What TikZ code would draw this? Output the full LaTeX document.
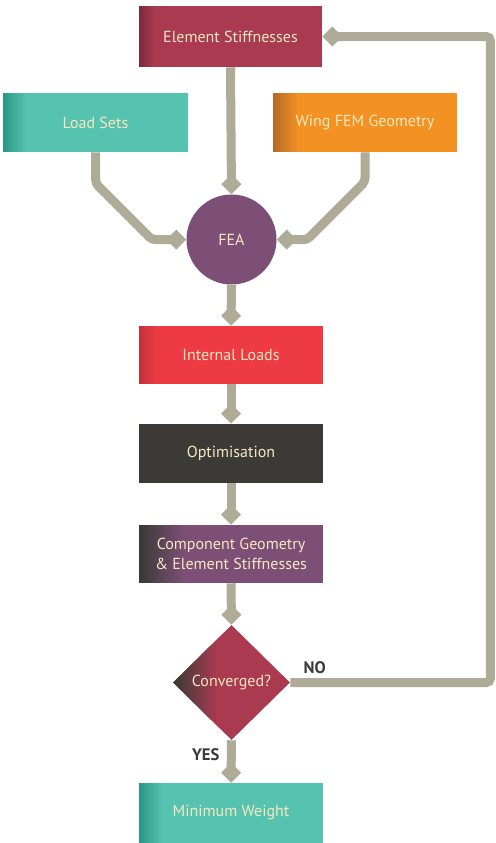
\documentclass[tikz,border=0pt]{standalone}
\usepackage{fontspec}
\setmainfont{PT Sans}
\usetikzlibrary{shapes.geometric,arrows.meta,calc}
\definecolor{crim}{HTML}{A93A50}
\definecolor{crimdk}{HTML}{7E2A3B}
\definecolor{teal1}{HTML}{55C3B0}
\definecolor{tealdk}{HTML}{2A9884}
\definecolor{orng}{HTML}{F39122}
\definecolor{orngdk}{HTML}{B8692A}
\definecolor{purp}{HTML}{7D4F76}
\definecolor{redb}{HTML}{EE3B43}
\definecolor{reddk}{HTML}{C2323A}
\definecolor{dgray}{HTML}{3B3A37}
\definecolor{txtc}{HTML}{F6E7C1}
\definecolor{conn}{HTML}{AEAB97}
\definecolor{lbl}{HTML}{3A3A3A}
\tikzset{
  shadebox/.style n args={3}{fill=#2,
    path picture={
      \foreach \k in {0,...,15}{
        \pgfmathtruncatemacro\pp{\k*100/15}
        \fill[#2!\pp!#1] ([xshift={\k*#3/16}]path picture bounding box.south west)
          rectangle ([xshift={(\k+1)*#3/16+0.4pt}]path picture bounding box.north west);
      }}},
  blk/.style={rectangle, inner sep=0pt, text=txtc, align=center,
    font=\fontsize{12}{15}\selectfont},
  flow/.style={draw=conn, line width=6.75pt, rounded corners=3pt,
    -{Turned Square[length=15pt,width=15pt]}},
  yn/.style={text=lbl, font=\fontsize{12.5}{15}\selectfont\bfseries, inner sep=0pt}
}
\begin{document}
\begin{tikzpicture}[x=0.75pt,y=0.75pt]
\useasboundingbox (0,0) rectangle (496,-843);
\node[blk, shadebox={crimdk}{crim}{12pt}, minimum width=137.25pt, minimum height=45.75pt] (es) at (230.5,-36.5) {Element Stiffnesses};
\node[blk, shadebox={tealdk}{teal1}{18pt}, minimum width=138.75pt, minimum height=44.25pt] (ls) at (95.5,-122.5) {Load Sets};
\node[blk, shadebox={orngdk}{orng}{20pt}, minimum width=138pt, minimum height=44.25pt] (wf) at (365,-122.5) {Wing FEM Geometry};
\node[blk, circle, fill=purp, minimum size=67.5pt] (fea) at (231.5,-239.5) {FEA};
\node[blk, shadebox={reddk}{redb}{14pt}, minimum width=138pt, minimum height=43.5pt] (il) at (231,-355) {Internal Loads};
\node[blk, fill=dgray, minimum width=138pt, minimum height=44.25pt] (op) at (231,-453.5) {Optimisation};
\node[blk, shadebox={dgray}{purp}{35pt}, minimum width=138pt, minimum height=43.5pt] (cg) at (231,-554) {Component Geometry\\\& Element Stiffnesses};
\node[blk, diamond, shadebox={dgray}{crim}{34pt}, minimum width=87.75pt, minimum height=86.25pt, aspect=1] (cv) at (231.5,-682.5) {Converged?};
\node[blk, shadebox={tealdk}{teal1}{18pt}, minimum width=138pt, minimum height=45pt] (mw) at (231,-813) {Minimum Weight};
\draw[flow] (es.south) -- (fea.north);
\draw[flow] (ls.south) -- ++(0,-31) -- ++(56.5,-56.5) -- (fea.west);
\draw[flow] (wf.south) -- ++(0,-29.5) -- ++(-58,-58) -- (fea.east);
\draw[flow] (fea.south) -- (il.north);
\draw[flow] (il.south) -- (op.north);
\draw[flow] (op.south) -- (cg.north);
\draw[flow] (cg.south) -- (cv.north);
\draw[flow] (cv.south) -- (mw.north);
\draw[flow] (cv.east) -| ($(es.east)+(168,0)$) -- (es.east);
\node[yn] (no) at (314.7,-668) {NO};
\node[yn] (yes) at (205.7,-755) {YES};
\end{tikzpicture}
\end{document}
